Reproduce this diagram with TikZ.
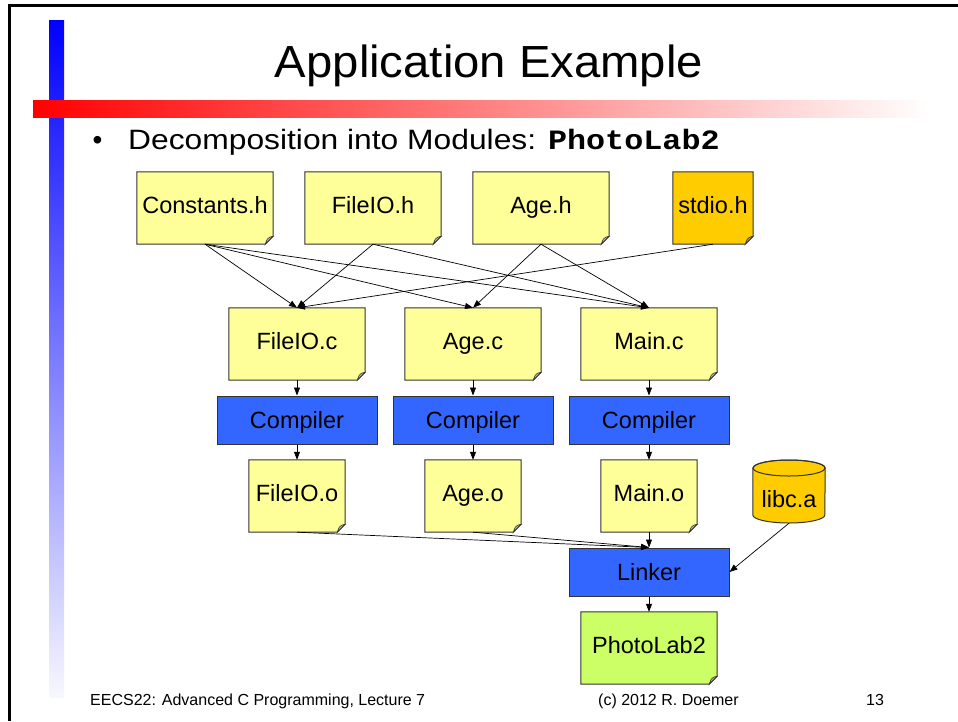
\documentclass[tikz,border=0pt]{standalone}
\usepackage{fontspec}
\setmainfont{Liberation Sans}
\newfontfamily\mycodefont{Liberation Mono}
\usetikzlibrary{arrows.meta,backgrounds}
\definecolor{noteyellow}{HTML}{FFFF99}
\definecolor{noteorange}{HTML}{FFCC00}
\definecolor{notegreen}{HTML}{CCFF66}
\definecolor{compblue}{HTML}{3366FF}
\definecolor{edgegray}{HTML}{333333}
\newcommand\mynodefont{\fontsize{23.5}{28}\selectfont}
\begin{document}
\begin{tikzpicture}[x=1pt,y=-1pt,
  note/.style={minimum width=136pt, minimum height=72pt, inner sep=0pt, font=\mynodefont, text height=17pt, text depth=7pt},
  smallnote/.style={note, minimum width=96pt},
  tinynote/.style={note, minimum width=80pt},
  toolbox/.style={draw=edgegray, fill=compblue, line width=1pt, minimum width=160pt, minimum height=48pt, inner sep=0pt, font=\mynodefont, text height=17pt, text depth=0pt},
  conn/.style={-{Triangle[length=8pt,width=6pt]}, line width=0.7pt, black}]
\useasboundingbox (0,0) rectangle (958,721);
\begin{pgfonlayer}{background}
\fill[white] (0,0) rectangle (958,721);
\end{pgfonlayer}
% slide decoration
\shade[top color=blue, bottom color=blue!3!white] (49,20) rectangle (64,697);
\shade[left color=red, right color=white] (33,100) rectangle (930,117);
\draw[line width=3pt, black] (9.5,721) -- (9.5,5.5) -- (958,5.5);
% title and bullet
\node[anchor=base, font=\fontsize{45}{54}\selectfont, inner sep=0pt] (title) at (489,77) {\scalebox{1.05}[1]{Application Example}};
\node[anchor=base, font=\fontsize{28}{34}\selectfont, inner sep=0pt] (dot) at (97.5,149) {\textbullet};
\node[anchor=base west, font=\fontsize{28}{34}\selectfont, inner sep=0pt] (bullet) at (128,149) {\scalebox{1.135}[1]{Decomposition into Modules: {\mycodefont\bfseries PhotoLab2}}};
% header files
\node[note] (ch) at (205,208) {Constants.h};
\node[note] (fh) at (373,208) {FileIO.h};
\node[note] (ah) at (541,208) {Age.h};
\node[tinynote] (sh) at (713,208) {stdio.h};
% source files
\node[note] (fc) at (297,344) {FileIO.c};
\node[note] (ac) at (473,344) {Age.c};
\node[note] (mc) at (649,344) {Main.c};
% compilers
\node[toolbox] (c1) at (297,420) {Compiler};
\node[toolbox] (c2) at (473,420) {Compiler};
\node[toolbox] (c3) at (649,420) {Compiler};
% object files
\node[smallnote] (fo) at (297,496) {FileIO.o};
\node[smallnote] (ao) at (473,496) {Age.o};
\node[smallnote] (mo) at (649,496) {Main.o};
% library
\node[minimum width=72pt, minimum height=63pt, inner sep=0pt, font=\mynodefont, text height=31pt, text depth=0pt] (libc) at (789,491.5) {libc.a};
% linker and result
\node[toolbox] (lk) at (649,572) {Linker};
\node[note] (pl) at (649,648) {PhotoLab2};
% shapes behind the texts
\begin{pgfonlayer}{background}
\foreach \n/\c in {ch/noteyellow, fh/noteyellow, ah/noteyellow, sh/noteorange,
                   fc/noteyellow, ac/noteyellow, mc/noteyellow,
                   fo/noteyellow, ao/noteyellow, mo/noteyellow, pl/notegreen}{
  \filldraw[fill=\c, draw=edgegray, line width=1pt, line join=miter]
    (\n.north west) -- (\n.north east) -- ([yshift=8pt]\n.south east)
    -- ([xshift=-8pt]\n.south east) -- (\n.south west) -- cycle;
  \filldraw[fill=\c!70!black!80, draw=edgegray, line width=0.6pt]
    ([yshift=8pt]\n.south east) .. controls ([xshift=-4pt,yshift=7pt]\n.south east) .. ([xshift=-6pt,yshift=5pt]\n.south east)
    -- ([xshift=-8pt]\n.south east) -- cycle;
}
\filldraw[fill=noteorange, draw=edgegray, line width=1pt]
  ([yshift=23.5pt]libc.west) -- ([yshift=-23.5pt]libc.west)
  arc[start angle=180, end angle=0, x radius=36, y radius=8]
  -- ([yshift=23.5pt]libc.east)
  arc[start angle=0, end angle=-180, x radius=36, y radius=8] -- cycle;
\draw[edgegray, line width=1pt] ([yshift=23.5pt]libc.center) ellipse[x radius=36, y radius=8];
\end{pgfonlayer}
% connectors
\draw[conn] (ch.south) -- (fc.north);
\draw[conn] (ch.south) -- (ac.north);
\draw[conn] (ch.south) -- (mc.north);
\draw[conn] (fh.south) -- (fc.north);
\draw[conn] (fh.south) -- (mc.north);
\draw[conn] (ah.south) -- (ac.north);
\draw[conn] (ah.south) -- (mc.north);
\draw[conn] (sh.south) -- (fc.north);
\draw[conn] (fc) -- (c1);
\draw[conn] (ac) -- (c2);
\draw[conn] (mc) -- (c3);
\draw[conn] (c1) -- (fo);
\draw[conn] (c2) -- (ao);
\draw[conn] (c3) -- (mo);
\draw[conn] (fo.south) -- (lk.north);
\draw[conn] (ao.south) -- (lk.north);
\draw[conn] (mo.south) -- (lk.north);
\draw[conn] (libc.south) -- (lk.east);
\draw[conn] (lk) -- (pl);
% footer
\node[anchor=base west, font=\fontsize{16}{19}\selectfont, inner sep=0pt] (foot1) at (90,705) {EECS22: Advanced C Programming, Lecture 7};
\node[anchor=base west, font=\fontsize{16}{19}\selectfont, inner sep=0pt] (foot2) at (598,705) {(c) 2012 R. Doemer};
\node[anchor=base west, font=\fontsize{16}{19}\selectfont, inner sep=0pt] (foot3) at (866,705) {13};
\end{tikzpicture}
\end{document}
